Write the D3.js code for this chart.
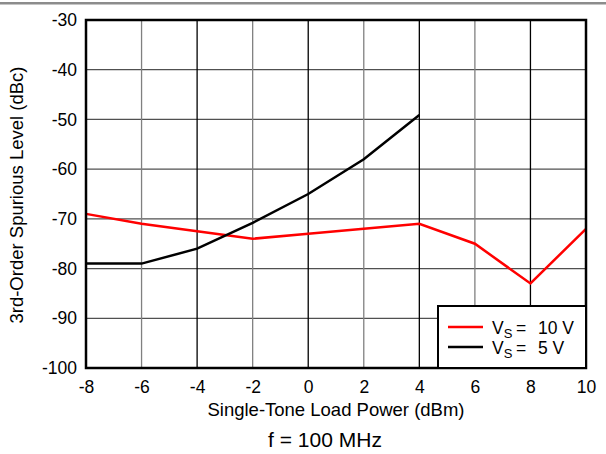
<!DOCTYPE html>
<html><head><meta charset="utf-8">
<script src="https://cdn.jsdelivr.net/npm/d3@7"></script>
<style>body{margin:0;background:#fff}svg{display:block;font-family:Arial,"Liberation Sans",sans-serif}</style>
</head><body><svg id="c" width="606" height="454"></svg>
<script>
const xTicks = [-8,-6,-4,-2,0,2,4,6,8,10];
const yTicks = [-30,-40,-50,-60,-70,-80,-90,-100];
const xs10 = [-8,-6,-4,-2,0,2,4,6,8,10];
const vs10 = [-69,-71,-72.5,-74,-73,-72,-71,-75,-83,-72];
const xs5 = [-8,-6,-4,-2,0,2,4];
const vs5 = [-79,-79,-76,-70.8,-65,-58,-49.1];
const seriesNames = ["10 V","5 V"];
const seriesColors = ["#ff0000","#000000"];

const FONT = "Arial, 'Liberation Sans', sans-serif";
const svg = d3.select("#c");
const L=86,R=586,T=20,B=368;
const x = d3.scaleLinear().domain([-8,10]).range([L,R]);
const y = d3.scaleLinear().domain([-100,-30]).range([B,T]);

// top rule
svg.append("rect").attr("x",0).attr("y",2).attr("width",606).attr("height",2.5).attr("fill","#8c8c8c");

// grid
svg.append("g").selectAll("line").data(yTicks.slice(1,-1)).join("line")
  .attr("x1",L).attr("x2",R).attr("y1",d=>y(d)).attr("y2",d=>y(d))
  .attr("stroke","#505050").attr("stroke-width",1.3);
svg.append("g").selectAll("line").data(xTicks.slice(1,-1)).join("line")
  .attr("x1",d=>x(d)).attr("x2",d=>x(d)).attr("y1",T).attr("y2",B)
  .attr("stroke",(d,i)=> i%2===0 ? "#808080" : "#000").attr("stroke-width",1.3);

// axes labels via d3 axes
const ax = svg.append("g").attr("transform",`translate(0,${B})`)
  .call(d3.axisBottom(x).tickValues(xTicks).tickFormat(d=>String(d)).tickSize(0).tickPadding(12.5));
const ay = svg.append("g").attr("transform",`translate(${L},0)`)
  .call(d3.axisLeft(y).tickValues(yTicks).tickFormat(d=>String(d)).tickSize(0).tickPadding(9));
[ax,ay].forEach(g=>{
  g.attr("font-size",17.5).attr("font-family",FONT);
  g.select(".domain").remove();
  g.selectAll("text").attr("fill","#000");
});

// series
const line = d3.line().x(d=>x(d[0])).y(d=>y(d[1]));
svg.append("path").datum(xs10.map((v,i)=>[v,vs10[i]]))
  .attr("d",line).attr("fill","none").attr("stroke",seriesColors[0]).attr("stroke-width",2.5);
svg.append("path").datum(xs5.map((v,i)=>[v,vs5[i]]))
  .attr("d",line).attr("fill","none").attr("stroke",seriesColors[1]).attr("stroke-width",2.5);

// frame
svg.append("rect").attr("x",L).attr("y",T).attr("width",R-L).attr("height",B-T)
  .attr("fill","none").attr("stroke","#000").attr("stroke-width",2.5);

// legend
const lg = svg.append("g").attr("font-family",FONT);
lg.append("rect").attr("x",438).attr("y",306).attr("width",148).attr("height",62)
  .attr("fill","#fff").attr("stroke","#000").attr("stroke-width",2);
seriesNames.forEach((n,i)=>{
  const yy = 327 + i*20;
  const by = 334 + i*19.5;
  lg.append("line").attr("x1",448).attr("x2",483).attr("y1",yy).attr("y2",yy)
    .attr("stroke",seriesColors[i]).attr("stroke-width",2.5);
  const t = lg.append("text").attr("x",492).attr("y",by).attr("font-size",17.5);
  t.append("tspan").text("V");
  t.append("tspan").attr("font-size",13).attr("dy",4).text("S");
  lg.append("text").attr("x",516).attr("y",by).attr("font-size",17.5).text("=");
  lg.append("text").attr("x",538).attr("y",by).attr("font-size",17.5).text(n);
});

// titles
svg.append("text").attr("x",336).attr("y",416).attr("text-anchor","middle").attr("font-size",18.5)
  .attr("font-family",FONT).text("Single-Tone Load Power (dBm)");
svg.append("text").attr("x",325).attr("y",447).attr("text-anchor","middle").attr("font-size",21)
  .attr("font-family",FONT).text("f = 100 MHz");
svg.append("text").attr("transform","translate(23,195) rotate(-90)").attr("text-anchor","middle").attr("font-size",18.5)
  .attr("font-family",FONT).text("3rd-Order Spurious Level (dBc)");
</script></body></html>
